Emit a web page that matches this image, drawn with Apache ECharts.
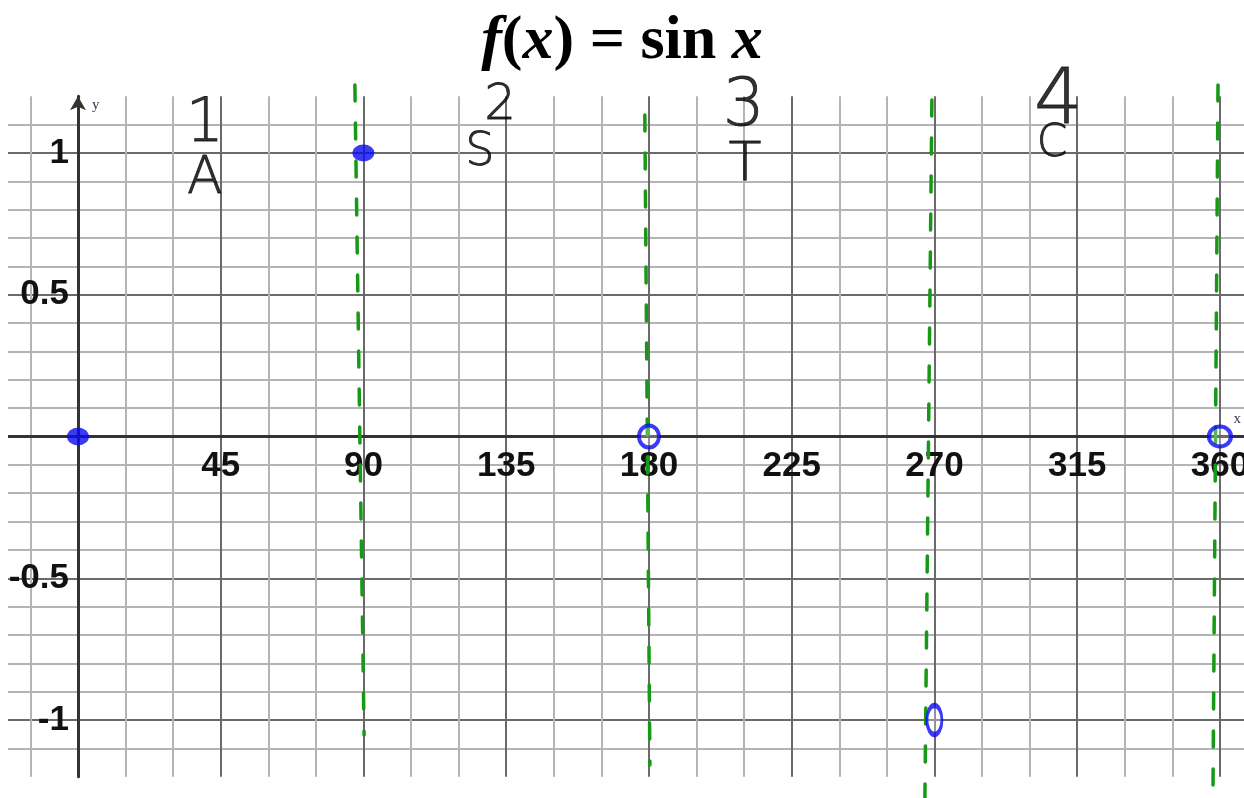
<!DOCTYPE html>
<html>
<head>
<meta charset="utf-8">
<title>f(x) = sin x</title>
<script src="https://cdn.jsdelivr.net/npm/echarts@6/dist/echarts.min.js"></script>
<style>
  html, body { margin: 0; padding: 0; background: #ffffff; }
  #chart { width: 1244px; height: 798px; }
</style>
</head>
<body>
<div id="chart"></div>
<script>
// Axis ranges (degrees on x, value on y)
const xMin = -30, xMax = 375, xStep = 15, xMajor = 45;
const yMin = -1.2, yMax = 1.2, yStep = 0.1;

// Tick labels shown on each axis
const xTickLabels = [45, 90, 135, 180, 225, 270, 315, 360];
const yTickLabels = [1, 0.5, -0.5, -1];

// Key points of sin x over one period
const pointX = [0, 90, 180, 270, 360];
const pointY = [0, 1, 0, -1, 0];

// Hand-drawn dashed guides near the quadrant boundaries: [top, bottom] ends
const guideX = [[87.3, 90.2], [178.7, 180.3], [269.2, 267.0], [359.4, 357.8]];
const guideY = [[1.24, -1.053], [1.134, -1.159], [1.187, -1.275], [1.24, -1.275]];

// Quadrant notes (ASTC)
const noteText = ['1', 'A', '2', 'S', '3', 'T', '4', 'C'];
const noteX = [40.0, 40.0, 133.1, 126.7, 209.9, 210.3, 309.0, 307.1];
const noteY = [1.099, 0.905, 1.165, 1.0, 1.16, 0.955, 1.175, 1.03];

// ---- layout & styling ----
const W = 1244, H = 798;
const gridLeft = -17.2, gridRight = -23.5, gridTop = 96.3, gridBottom = 21.3;
const plotW = W - gridLeft - gridRight, plotH = H - gridTop - gridBottom;
// shift the axes so they cross at the origin
const xAxisOffset = -plotH * (0 - yMin) / (yMax - yMin);
const yAxisOffset = -plotW * (0 - xMin) / (xMax - xMin);

const MINOR = '#b4b4b4', MAJOR = '#6a6a6a', AXIS = '#333333';
const BLUE = '#0a0af0', GREEN = '#169a16';
const noteSizes = [60, 52, 50, 46, 66, 54, 76, 44];
const pointSymbolSizes = [[22, 18], [22, 17], [20, 22], [15, 29], [22, 20]];
const pointFilled = [true, true, false, false, false];

const round1 = v => Math.round(v * 10) / 10;

const xSplitColors = [];
for (let v = xMin; v <= xMax + 1e-9; v += xStep) {
  xSplitColors.push(v % xMajor === 0 ? MAJOR : MINOR);
}
const ySplitColors = [];
const yCount = Math.round((yMax - yMin) / yStep);
for (let i = 0; i <= yCount; i++) {
  const v = round1(yMin + i * yStep);
  if (i === 0 || i === yCount) ySplitColors.push('rgba(0,0,0,0)');
  else ySplitColors.push(Math.round(v * 10) % 5 === 0 ? MAJOR : MINOR);
}

const labelFont = "'Liberation Sans', Arial, sans-serif";
const noteFont = "'DejaVu Sans', 'Open Sans', sans-serif";
const serif = "'Liberation Serif', 'DejaVu Serif', serif";

const series = [];

guideX.forEach((xs, k) => {
  series.push({
    type: 'line',
    silent: true,
    clip: false,
    symbol: 'none',
    z: 3,
    lineStyle: { color: GREEN, width: 3.5, type: [16, 22], cap: 'round' },
    data: [[xs[0], guideY[k][0]], [xs[1], guideY[k][1]]]
  });
});

series.push({
  type: 'scatter',
  silent: true,
  clip: false,
  z: 5,
  data: pointX.map((x, i) => ({
    value: [x, pointY[i]],
    symbolSize: pointSymbolSizes[i],
    itemStyle: pointFilled[i]
      ? { color: BLUE }
      : { color: 'rgba(255,255,255,0.35)', borderColor: BLUE, borderWidth: 4 }
  }))
});

series.push({
  type: 'scatter',
  silent: true,
  clip: false,
  z: 4,
  symbolSize: 0,
  data: noteText.map((t, i) => ({
    value: [noteX[i], noteY[i]],
    name: t,
    label: {
      show: true,
      position: 'inside',
      formatter: '{b}',
      fontFamily: noteFont,
      fontWeight: 200,
      fontSize: noteSizes[i],
      color: '#000000',
      textBorderColor: '#000000',
      textBorderWidth: 0.8
    }
  }))
});

const option = {
  animation: false,
  backgroundColor: '#ffffff',
  title: {
    left: 'center',
    top: 6,
    text: '{f|f}{p|(}{f|x}{p|) = }{s|sin }{f|x}',
    textStyle: {
      rich: {
        f: { fontFamily: serif, fontStyle: 'italic', fontWeight: 'bold', fontSize: 62, color: '#000' },
        p: { fontFamily: serif, fontWeight: 'bold', fontSize: 62, color: '#000' },
        s: { fontFamily: serif, fontWeight: 'bold', fontSize: 62, color: '#000' }
      }
    }
  },
  graphic: [{
    type: 'rect', z: 1, silent: true,
    shape: { x: 0, y: 0, width: 8, height: H },
    style: { fill: '#ffffff' }
  }],
  grid: {
    left: gridLeft, right: gridRight, top: gridTop, bottom: gridBottom,
    containLabel: false,
    outerBoundsMode: 'none'
  },
  xAxis: {
    type: 'value',
    min: xMin, max: xMax, interval: xStep,
    position: 'bottom',
    offset: xAxisOffset,
    name: 'x',
    nameLocation: 'end',
    nameGap: -34,
    nameTextStyle: { fontFamily: serif, fontSize: 15, color: '#34405a', verticalAlign: 'bottom', padding: [0, 0, 10, 0] },
    axisLine: { show: true, onZero: false, symbol: ['none', 'arrow'], symbolSize: [12, 14], lineStyle: { color: AXIS, width: 3 } },
    axisTick: { show: false },
    splitLine: { show: true, lineStyle: { color: xSplitColors, width: 2 } },
    axisLabel: {
      margin: 12,
      fontFamily: labelFont, fontWeight: 'bold', fontSize: 35, color: '#111',
      showMinLabel: true, showMaxLabel: true, hideOverlap: false,
      formatter: v => (xTickLabels.indexOf(Math.round(v)) >= 0 ? String(Math.round(v)) : '')
    }
  },
  yAxis: {
    type: 'value',
    min: yMin, max: yMax, interval: yStep,
    position: 'left',
    offset: yAxisOffset,
    name: 'y',
    nameLocation: 'end',
    nameGap: -16,
    nameTextStyle: { fontFamily: serif, fontSize: 15, color: '#34405a', align: 'left', padding: [0, 0, 0, 14] },
    axisLine: { show: true, onZero: false, symbol: ['none', 'arrow'], symbolSize: [12, 14], lineStyle: { color: AXIS, width: 3 } },
    axisTick: { show: false },
    splitLine: { show: true, lineStyle: { color: ySplitColors, width: 2 } },
    axisLabel: {
      margin: 9,
      fontFamily: labelFont, fontWeight: 'bold', fontSize: 35, color: '#111',
      showMinLabel: true, showMaxLabel: true, hideOverlap: false,
      formatter: v => (yTickLabels.indexOf(round1(v)) >= 0 ? String(round1(v)) : '')
    }
  },
  series: series
};

const chart = echarts.init(document.getElementById('chart'), null, { renderer: 'canvas' });
chart.setOption(option);
</script>
</body>
</html>
